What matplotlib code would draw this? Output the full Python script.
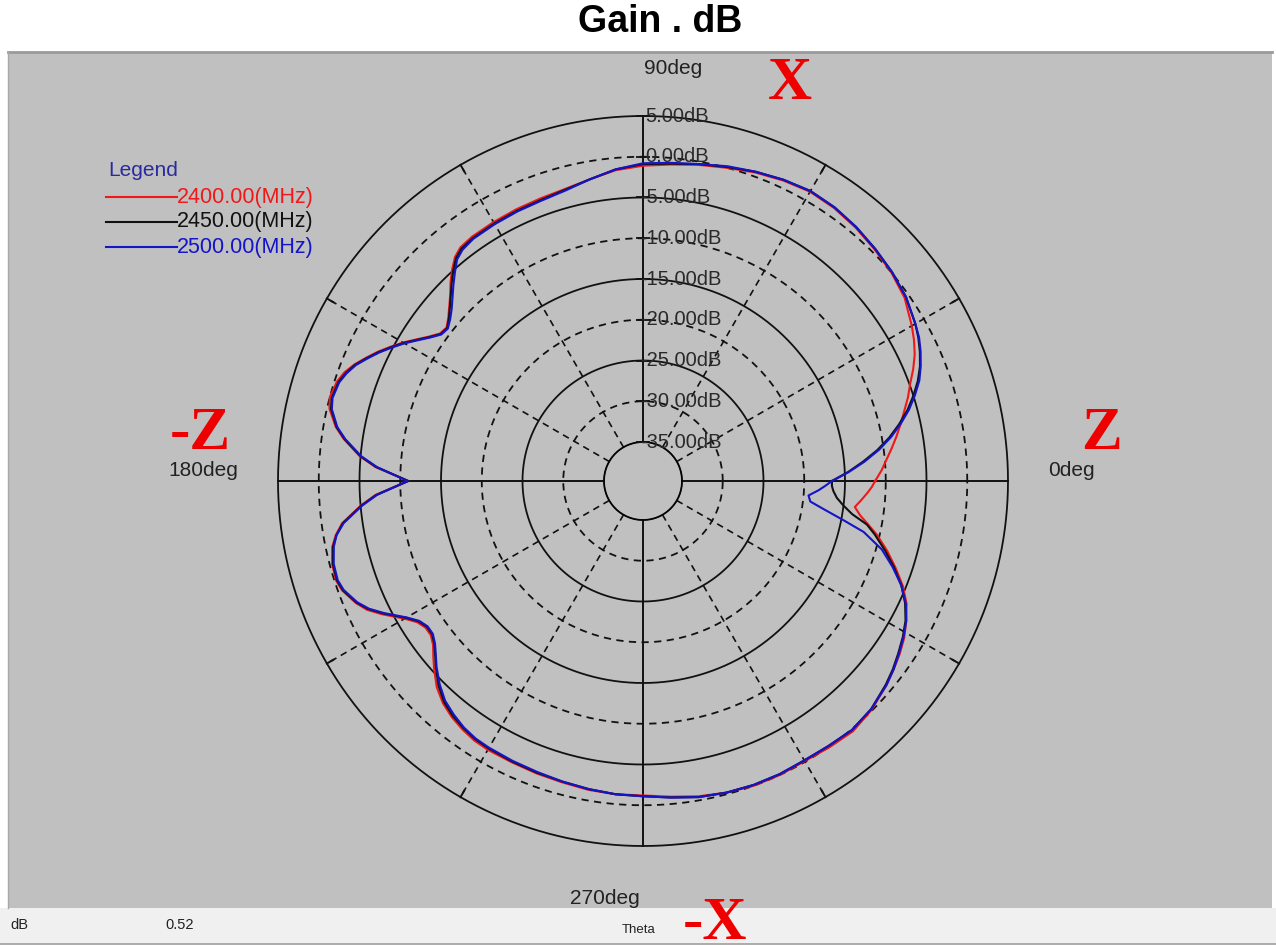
import numpy as np
import matplotlib
matplotlib.use("Agg")
import matplotlib.pyplot as plt
from matplotlib.patches import Rectangle
from matplotlib.lines import Line2D
from matplotlib.transforms import offset_copy

# ---------------- data ----------------
angles_deg = [0, 2.5, 5, 7.5, 10, 12.5, 15, 17.5, 20, 22.5,
              25, 27.5, 30, 35, 40, 45, 50, 55, 60, 65,
              70, 75, 80, 85, 90, 95, 100, 105, 110, 115,
              120, 125, 128, 130, 132, 134, 136, 138, 140, 142,
              144, 146, 148, 150, 152, 154, 156, 158, 160, 162,
              165, 167, 170, 172, 175, 177, 180, 183, 185, 188,
              190, 192, 195, 198, 200, 203, 205, 207, 210, 212,
              214, 216, 218, 220, 222, 225, 228, 231, 234, 237,
              240, 245, 250, 255, 260, 265, 270, 275, 280, 285,
              290, 295, 300, 305, 310, 315, 320, 323, 326, 329,
              332, 335, 338, 341, 344, 347, 349, 351, 353, 355,
              357, 358.5]

gain_2400 = [-11.3, -10.5, -9.8, -9.0, -8.2, -7.4, -6.6, -5.7, -4.9, -3.9,
             -3.0, -2.3, -1.7, -0.6, 0.0, 0.4, 0.8, 1.1, 1.2, 0.9,
             0.5, 0.0, -0.4, -0.8, -1.1, -1.5, -2.2, -2.7, -2.9, -3.0,
             -3.1, -3.2, -3.4, -3.9, -4.8, -5.8, -6.9, -7.8, -8.6, -9.2,
             -9.0, -8.1, -7.0, -5.8, -4.7, -3.6, -2.6, -1.6, -0.8, -0.3,
             0.0, -0.3, -1.5, -2.7, -4.9, -6.9, -11.0, -6.9, -5.0, -2.5,
             -1.5, -0.8, -0.3, -0.2, -0.5, -1.5, -2.4, -3.8, -6.0, -7.1,
             -7.6, -7.6, -7.1, -6.2, -5.3, -4.0, -3.1, -2.5, -2.1, -1.8,
             -1.7, -1.7, -1.6, -1.5, -1.3, -1.2, -1.2, -0.9, -0.5, -0.2,
             0.0, 0.0, -0.1, 0.1, 0.3, -0.1, -0.8, -1.3, -1.8, -2.4,
             -3.2, -4.1, -5.4, -7.0, -8.6, -10.3, -11.6, -12.8, -13.6, -12.9,
             -12.2, -11.7]

gain_2450 = [-16.6, -14.6, -12.7, -10.8, -9.1, -7.6, -6.2, -5.0, -3.9, -3.0,
             -2.3, -1.7, -1.2, -0.4, 0.1, 0.5, 0.9, 1.2, 1.3, 1.0,
             0.6, 0.1, -0.3, -0.7, -0.9, -1.4, -2.2, -2.8, -3.1, -3.2,
             -3.3, -3.4, -3.6, -4.1, -5.0, -6.0, -7.0, -7.9, -8.7, -9.3,
             -9.1, -8.2, -7.1, -5.9, -4.8, -3.7, -2.7, -1.7, -1.0, -0.5,
             -0.25, -0.5, -1.6, -2.8, -5.0, -7.0, -11.0, -7.0, -5.1, -2.6,
             -1.6, -0.9, -0.4, -0.3, -0.6, -1.6, -2.6, -4.0, -6.2, -7.3,
             -7.8, -7.8, -7.3, -6.5, -5.6, -4.3, -3.3, -2.7, -2.3, -2.0,
             -1.9, -1.8, -1.7, -1.6, -1.4, -1.2, -1.1, -0.8, -0.4, -0.2,
             -0.1, -0.1, -0.2, -0.1, 0.1, -0.2, -0.9, -1.4, -2.0, -2.6,
             -3.3, -4.3, -5.6, -7.2, -8.9, -10.6, -11.8, -13.8, -15.0, -15.9,
             -16.4, -16.6]

gain_2500 = [-16.6, -14.5, -12.5, -10.6, -8.9, -7.4, -6.0, -4.8, -3.7, -2.9,
             -2.2, -1.6, -1.2, -0.4, 0.1, 0.5, 0.9, 1.2, 1.3, 1.0,
             0.6, 0.2, -0.3, -0.6, -0.8, -1.4, -2.2, -2.9, -3.2, -3.3,
             -3.4, -3.5, -3.8, -4.3, -5.3, -6.3, -7.3, -8.2, -8.9, -9.4,
             -9.2, -8.3, -7.2, -6.0, -4.9, -3.8, -2.8, -1.8, -1.1, -0.6,
             -0.35, -0.6, -1.7, -2.9, -5.1, -7.1, -10.9, -7.1, -5.2, -2.7,
             -1.6, -1.0, -0.5, -0.4, -0.7, -1.7, -2.7, -4.1, -6.3, -7.4,
             -7.9, -7.9, -7.4, -6.6, -5.7, -4.5, -3.5, -2.9, -2.4, -2.1,
             -2.0, -1.9, -1.8, -1.6, -1.4, -1.2, -1.1, -0.8, -0.4, -0.2,
             -0.1, -0.1, -0.2, -0.1, 0.1, -0.2, -0.8, -1.3, -1.9, -2.5,
             -3.2, -4.2, -5.6, -7.4, -9.3, -12.0, -14.8, -17.2, -19.1, -19.4,
             -18.2, -17.4]

assert len(angles_deg) == len(gain_2400) == len(gain_2450) == len(gain_2500)

series_labels = ["2400.00(MHz)", "2450.00(MHz)", "2500.00(MHz)"]
series_colors = ["#f01818", "#111111", "#1414c8"]

ring_values = [5, 0, -5, -10, -15, -20, -25, -30, -35]
ring_labels = ["5.00dB", "0.00dB", "-5.00dB", "-10.00dB", "-15.00dB", "-20.00dB",
               "-25.00dB", "-30.00dB", "-35.00dB"]
spoke_angles = [30, 60, 120, 150, 210, 240, 300, 330]
axis_angles = [0, 90, 180, 270]

# ---------------- figure ----------------
W, H = 1276, 946
fig = plt.figure(figsize=(W / 100, H / 100), dpi=100)
fig.patch.set_facecolor("white")


def fx(px):
    return px / W


def fy(py):
    return 1 - py / H


# gray panel and status bar (behind the axes)
fig.patches.append(Rectangle((fx(8), fy(908)), fx(1272) - fx(8), fy(52) - fy(908),
                             transform=fig.transFigure, facecolor="#c0c0c0",
                             edgecolor="none", zorder=-10))
fig.lines.append(Line2D([fx(8), fx(1272)], [fy(52), fy(52)], transform=fig.transFigure,
                        color="#9a9a9a", lw=2, zorder=-9))
fig.lines.append(Line2D([fx(8), fx(8)], [fy(52), fy(908)], transform=fig.transFigure,
                        color="#a8a8a8", lw=1, zorder=-9))
fig.patches.append(Rectangle((fx(0), fy(944)), 1, fy(908) - fy(944),
                             transform=fig.transFigure, facecolor="#f0f0f0",
                             edgecolor="none", zorder=-10))
fig.lines.append(Line2D([0, 1], [fy(944), fy(944)], transform=fig.transFigure,
                        color="#a0a0a0", lw=1.2, zorder=-9))

# polar axes
cx, cy, R = 643, 481, 365
ax = fig.add_axes([fx(cx - R), fy(cy + R), 2 * R / W, 2 * R / H], projection="polar")
ax.set_zorder(1)
ax.patch.set_visible(False)
rmin, rmax = -35, 5
inner_px = 39
rorigin = rmin - inner_px * (rmax - rmin) / (R - inner_px)
ax.set_rlim(rmin, rmax)
ax.set_rorigin(rorigin)
ax.set_theta_zero_location("E")
ax.set_theta_direction(1)
ax.set_xticks([])
ax.set_yticks([])
ax.grid(False)
for sp in ax.spines.values():
    sp.set_visible(False)

th = np.linspace(0, 2 * np.pi, 1441)
for rv in ring_values:
    solid = (rv % 10) != 0
    ax.plot(th, np.full_like(th, rv), color="#111111", lw=1.3,
            ls="-" if solid else (0, (4, 3)), clip_on=False, zorder=2)

for a in spoke_angles:
    t = np.deg2rad(a)
    ax.plot([t, t], [rmin, rmax], color="#111111", lw=1.2, ls=(0, (4, 3)),
            clip_on=False, zorder=2)
    # small tick where the spoke meets the outer ring
    ax.plot([t, t], [rmax - 0.9, rmax], color="#111111", lw=1.4, clip_on=False, zorder=2)
for a in axis_angles:
    t = np.deg2rad(a)
    ax.plot([t, t], [rmin, rmax], color="#111111", lw=1.4, clip_on=False, zorder=2)

# radial tick marks + labels on the 90deg axis
for rv, lab in zip(ring_values, ring_labels):
    ax.plot([np.pi / 2], [rv], marker="_", ms=10, mew=1.3, color="#111111",
            clip_on=False, zorder=3)
    dx = -3 if lab.startswith("-") else 2
    tr = offset_copy(ax.transData, fig=fig, x=dx, y=0, units="dots")
    ax.text(np.pi / 2, rv, lab, transform=tr, ha="left", va="center",
            fontsize=14.5, family="Liberation Sans", color="#2a2a2a", zorder=4,
            clip_on=False)

# curves
theta = np.deg2rad(np.array(angles_deg + [360]))
for vals, col, lab in zip([gain_2400, gain_2450, gain_2500], series_colors, series_labels):
    v = np.array(vals + [vals[0]])
    ax.plot(theta, v, color=col, lw=1.5, zorder=5, clip_on=False, label=lab,
            solid_joinstyle="round")

# angle labels
lab_kw = dict(fontsize=15, family="Liberation Sans", color="#222222", va="center", ha="center")
fig.text(fx(673), fy(68), "90deg", **lab_kw)
fig.text(fx(203), fy(470), "180deg", **lab_kw)
fig.text(fx(1071), fy(470), "0deg", **lab_kw)
fig.text(fx(605), fy(898), "270deg", **lab_kw)

# legend
fig.text(fx(108), fy(170), "Legend", fontsize=15, family="Liberation Sans",
         color="#2a2aa0", va="center", ha="left")
leg_y = [197, 222, 247]
for yy, col, lab in zip(leg_y, series_colors, series_labels):
    fig.lines.append(Line2D([fx(106), fx(177)], [fy(yy), fy(yy)], transform=fig.transFigure,
                            color=col, lw=1.5))
    fig.text(fx(177), fy(yy), lab, fontsize=15.5, family="Liberation Sans",
             color=col, va="center", ha="left")

# red axis letters
red_kw = dict(fontsize=44, family="Liberation Serif", weight="bold", color="#ee0000",
              va="center", ha="center")
fig.text(fx(790), fy(84), "X", **red_kw)
fig.text(fx(200), fy(434), "-Z", **red_kw)
fig.text(fx(1101), fy(434), "Z", **red_kw)
fig.text(fx(715), fy(924), "-X", **red_kw)

# title
fig.text(fx(660), fy(22), "Gain . dB", fontsize=27, family="Liberation Sans",
         weight="bold", color="black", va="center", ha="center")

# status bar
sb_kw = dict(fontsize=10.5, family="Liberation Sans", color="#222222", va="center", ha="left")
fig.text(fx(10), fy(925), "dB", **sb_kw)
fig.text(fx(165), fy(925), "0.52", **sb_kw)
fig.text(fx(622), fy(930), "Theta", fontsize=9.5, family="Liberation Sans",
         color="#222222", va="center", ha="left")

fig.savefig("out.png", dpi=100)
